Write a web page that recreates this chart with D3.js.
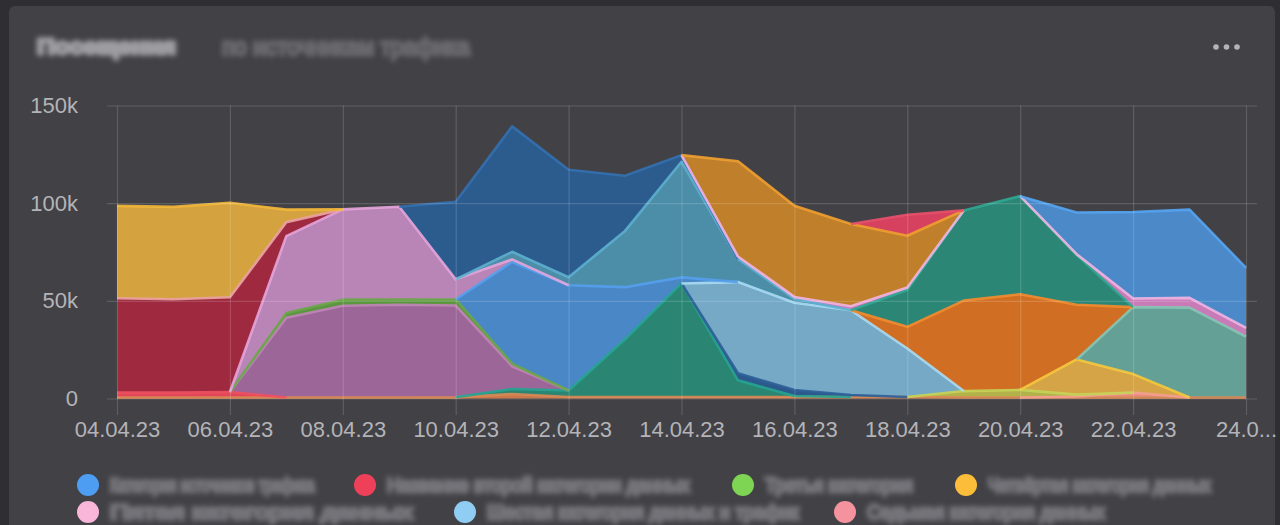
<!DOCTYPE html>
<html><head><meta charset="utf-8">
<script src="https://cdn.jsdelivr.net/npm/d3@7"></script>
<style>html,body{margin:0;padding:0;background:#2f2e33;overflow:hidden}</style>
</head><body>
<svg id="c" width="1280" height="525"></svg>
<script>
// ---------- data ----------
const dates = ["04.04.23","05.04.23","06.04.23","07.04.23","08.04.23","09.04.23","10.04.23",
  "11.04.23","12.04.23","13.04.23","14.04.23","15.04.23","16.04.23","17.04.23","18.04.23",
  "19.04.23","20.04.23","21.04.23","22.04.23","23.04.23","24.04.23"];
const tickDates = ["04.04.23","06.04.23","08.04.23","10.04.23","12.04.23","14.04.23",
  "16.04.23","18.04.23","20.04.23","22.04.23","24.04.23"];
const tickLabels = ["04.04.23","06.04.23","08.04.23","10.04.23","12.04.23","14.04.23",
  "16.04.23","18.04.23","20.04.23","22.04.23","24.0..."];
const yTicks = [0, 50, 100, 150];            // thousands
const yTickLabels = ["0", "50k", "100k", "150k"];

// series values in thousands, stacking order bottom -> top
const orangeBase   = [0.5,0.5,0.5,0.5,0.5,0.5,0.6,2.3,0.8,0.8,0.8,0.8,0.8,0.8,0.8,0.5,0.5,0.5,0.5,0.5,0.5];
const salmon       = [0,0,0,0,0,0,0,0,0,0,0,0,0,0,0,0,0,0.5,2.5,0,0];
const redBand      = [2.5,2.5,2.8,0,0,0,0,0,0,0,0,0,0,0,0,0,0,0,0,0,0];
const olive        = [0,0,0,0,0,0,0,0,0,0,0,0,0,0,0,3.3,3.9,1.0,0,0,0];
const yellow2      = [0,0,0,0,0,0,0,0,0,0,0,0,0,0,0,0,0,18,9.5,0,0];
const seaGreen     = [0,0,0,0,0,0,0,0,0,0,0,0,0,0,0,0,0,0,34.3,46,31.2];
const darkGreenMid = [0,0,0,0,0,0,0,2.6,3.3,29.5,58.1,8.5,0.5,0,0,0,0,0,0,0,0];
const purple       = [0,0,0,40.8,47,47.5,47,11.6,0,0,0,0,0,0,0,0,0,0,0,0,0];
const green        = [0,0,0,2.5,3.1,2.6,3.1,1.3,0,0,0,0,0,0,0,0,0,0,0,0,0];
const navy         = [0,0,0,0,0,0,0,0,0,0,0,3.6,3,1,0,0,0,0,0,0,0];
const lightBlue    = [0,0,0,0,0,0,0,0,0,0,0,46.7,44.7,43.4,24.8,0,0,0,0,0,0];
const blueMid      = [0,0,0,0,0,0,0,52.1,53.9,26.7,3.1,0,0,0,0,0,0,0,0,0,0];
const pink         = [0,0,0,39.3,46.2,47.6,10.3,1.3,0,0,0,0,0,0,0,0,0,0,0,0,0];
const teal         = [0,0,0,0,0,0,0,3.9,4.1,28.8,59.2,11.8,2,0,0,0,0,0,0,0,0];
const darkBlue     = [0,0,0,0,0,0,39.7,64.2,55,28.2,3.4,0,0,0,0,0,0,0,0,0,0];
const darkOrange   = [0,0,0,0,0,0,0,0,0,0,0,0,0,0,11.1,46.3,49,28,0,0,0];
const darkGreen    = [0,0,0,0,0,0,0,0,0,0,0,0,0,0,18.8,46.2,50.2,25.4,0,0,0];
const pinkRight    = [0,0,0,0,0,0,0,0,0,0,0,1.3,1,2,1.3,0,0,0.5,4.4,5,4.5];
const orangeBrown  = [0,0,0,0,0,0,0,0,0,0,0,48.8,46.7,42.1,26.5,0,0,0,0,0,0];
const red          = [0,0,0,0,0,0,0,0,0,0,0,0,0,0,10.8,0,0,0,0,0,0];
const crimson      = [48.3,47.8,48.5,7.2,0,0,0,0,0,0,0,0,0,0,0,0,0,0,0,0,0];
const yellow       = [47.3,47.3,48.4,6.4,0,0,0,0,0,0,0,0,0,0,0,0,0,0,0,0,0];
const blueTop      = [0,0,0,0,0,0,0,0,0,0,0,0,0,0,0,0,0,21.3,44.3,45.2,30.7];

const seriesKeys = ["orangeBase","salmon","redBand","olive","yellow2","seaGreen","darkGreenMid",
  "purple","green","navy","lightBlue","blueMid","pink","teal","darkBlue","darkOrange","darkGreen",
  "pinkRight","orangeBrown","red","crimson","yellow","blueTop"];
const seriesValues = {orangeBase,salmon,redBand,olive,yellow2,seaGreen,darkGreenMid,purple,green,
  navy,lightBlue,blueMid,pink,teal,darkBlue,darkOrange,darkGreen,pinkRight,orangeBrown,red,crimson,yellow,blueTop};

const legendLabels = ["Категория источников трафика","Название второй категории данных","Третья категория",
  "Четвёртая категория данных","Пятая категория данных","Шестая категория данных и трафик","Седьмая категория данных"];

// ---------- styles ----------
const fills = {orangeBase:"#c8784a",salmon:"#e88b7f",redBand:"#e04858",olive:"#b3b24a",yellow2:"#d4a446",
  seaGreen:"#64a095",darkGreenMid:"#2a8672",purple:"#9c6699",green:"#5c9640",navy:"#2c5a8c",
  lightBlue:"#75a9c6",blueMid:"#4a87c6",pink:"#b985b7",teal:"#4c8da8",darkBlue:"#2c5b8e",
  darkOrange:"#d06f24",darkGreen:"#2b8676",pinkRight:"#c97bb8",orangeBrown:"#c07f2a",red:"#d5415f",
  crimson:"#9f2a40",yellow:"#d4a23e",blueTop:"#4b89c9"};
const strokes = {orangeBase:"#d98a55",salmon:"#f4a090",redBand:"#f05060",olive:"#c6d458",yellow2:"#f7c93e",
  seaGreen:"#86c7b5",darkGreenMid:"#26a592",purple:"#c285b8",green:"#6ca64a",navy:"#2e5f98",
  lightBlue:"#a9dbf4",blueMid:"#55a0ee",pink:"#e6a5dc",teal:"#5db0d0",darkBlue:"#3470b0",
  darkOrange:"#f58c2e",darkGreen:"#30a892",pinkRight:"#f2b5e2",orangeBrown:"#f0a030",red:"#e8506a",
  crimson:"#eba3a3",yellow:"#f3b83a",blueTop:"#55a5f2"};
const legendColors = ["#4d9ef2","#ef405a","#7ed453","#fbbd3a","#f9b6d8","#90cdf2","#f4939e"];

// ---------- drawing ----------
const W = 1280, H = 525;
const FONT = "Liberation Sans, Arial, sans-serif";
const svg = d3.select("#c");
const defs = svg.append("defs");
defs.append("filter").attr("id","blur").attr("x","-10%").attr("y","-60%").attr("width","120%").attr("height","220%")
  .append("feGaussianBlur").attr("stdDeviation", 2.6);

svg.append("rect").attr("width",W).attr("height",H).attr("fill","#2f2e33");
svg.append("rect").attr("x",9).attr("y",6).attr("width",1266).attr("height",560).attr("rx",6).attr("fill","#424146");

// header (obscured in the source, drawn blurred)
function blurText(g, xPos, yPos, size, color, len, str, weight){
  return g.append("text").attr("x",xPos).attr("y",yPos).attr("font-family",FONT)
    .attr("font-size",size).attr("font-weight",weight||"normal").attr("fill",color)
    .attr("stroke",color).attr("stroke-width",3.5).attr("stroke-linejoin","round")
    .attr("textLength",len).attr("lengthAdjust","spacingAndGlyphs").attr("filter","url(#blur)").text(str);
}
blurText(svg, 37, 54, 22, "#9c9ca1", 139, "Посещения", "bold");
blurText(svg, 222, 55, 24, "#67676c", 248, "по источникам трафика");
svg.append("g").selectAll("circle").data([0,1,2]).join("circle")
  .attr("cx",d=>1216+d*10.5).attr("cy",47).attr("r",2.8).attr("fill","#b4b4b8");

const x = d3.scalePoint().domain(dates).range([117, 1246]);
const y = d3.scaleLinear().domain([0, 150]).range([398.5, 105.5]);

const table = dates.map((d,i)=>{ const r={date:d}; seriesKeys.forEach(k=>r[k]=seriesValues[k][i]); return r; });
const stacked = d3.stack().keys(seriesKeys)(table);

const area = d3.area().x(d=>x(d.data.date)).y0(d=>y(d[0])).y1(d=>y(d[1]));
const plot = svg.append("g");
plot.selectAll("path.area").data(stacked).join("path").attr("class","area")
  .attr("d",area).attr("fill",s=>fills[s.key]).attr("stroke","none");

// lines: only on segments where the series has a value
const line = d3.line().x(d=>x(d.data.date)).y(d=>y(d[1]));
stacked.forEach(s=>{
  const vals = seriesValues[s.key];
  let run = [];
  const runs = [];
  for (let i=0;i<s.length-1;i++){
    if (vals[i]>0 || vals[i+1]>0){
      if (run.length===0) run.push(s[i]);
      run.push(s[i+1]);
    } else if (run.length){ runs.push(run); run=[]; }
  }
  if (run.length) runs.push(run);
  runs.forEach(r=>{
    plot.append("path").attr("d",line(r)).attr("fill","none").attr("stroke",strokes[s.key])
      .attr("stroke-width",2.6).attr("stroke-opacity",0.9).attr("stroke-linejoin","round");
  });
});

// grid + axes (drawn on top, faint)
const gx = svg.append("g").attr("transform","translate(0,415)")
  .call(d3.axisBottom(x).tickValues(tickDates).tickSize(-(415-105.5)).tickPadding(6)
    .tickFormat(d=>tickLabels[tickDates.indexOf(d)]));
gx.select(".domain").remove();
gx.selectAll("line").attr("stroke","rgba(255,255,255,0.15)").attr("stroke-width",1.2);
gx.selectAll("text").attr("fill","#b4b4b8").attr("font-size",22).attr("font-family",FONT);

const gy = svg.append("g").attr("transform","translate(107,0)")
  .call(d3.axisLeft(y).tickValues(yTicks).tickSize(-(1257-107)).tickPadding(29)
    .tickFormat(d=>yTickLabels[yTicks.indexOf(d)]));
gy.select(".domain").remove();
gy.selectAll("line").attr("stroke","rgba(255,255,255,0.15)").attr("stroke-width",1.2);
gy.selectAll("text").attr("fill","#b4b4b8").attr("font-size",22).attr("font-family",FONT);

// legend
const legendLayout = [[88,485,207],[365,485,305],[743,485,150],[966,485,225],[88,512,305],[465,512,314],[845,512,240]];
const lg = svg.append("g");
legendLabels.forEach((lab,i)=>{
  const [cx,cy,tw] = legendLayout[i];
  lg.append("circle").attr("cx",cx).attr("cy",cy).attr("r",11).attr("fill",legendColors[i]);
  blurText(lg, cx+22, cy+7, 20, "#75757a", tw-2, lab);
});
</script>
</body></html>
